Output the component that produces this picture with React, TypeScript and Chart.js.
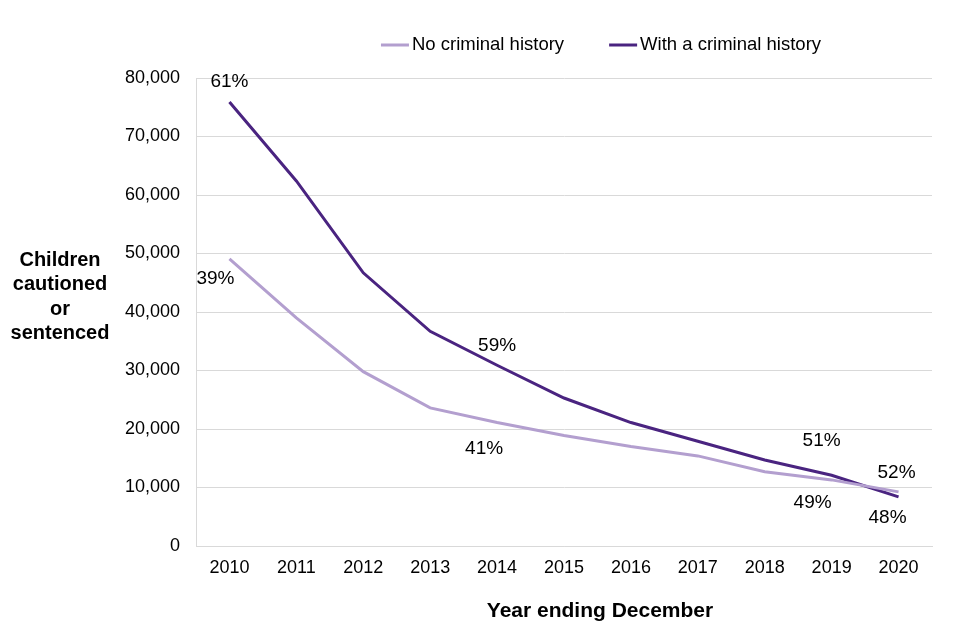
import React, { useEffect, useRef } from "react";
import { Chart, registerables } from "chart.js";

Chart.register(...registerables);

const years = ["2010", "2011", "2012", "2013", "2014", "2015", "2016", "2017", "2018", "2019", "2020"];
const noHistory = [49100, 39000, 29800, 23600, 21100, 18900, 17000, 15400, 12700, 11300, 9250];
const withHistory = [75900, 62400, 46700, 36700, 30900, 25300, 21100, 17900, 14700, 12100, 8400];
const noHistoryPct = ["39%", "", "", "", "41%", "", "", "", "", "49%", "52%"];
const withHistoryPct = ["61%", "", "", "", "59%", "", "", "", "", "51%", "48%"];
const seriesNames = ["No criminal history", "With a criminal history"];
const yTitleLines = ["Children", "cautioned", "or", "sentenced"];
const xTitle = "Year ending December";

const FONT = "'Liberation Sans', Arial, sans-serif";
const LIGHT = "#b39fcf";
const DARK = "#4a2480";

// label offsets (px) relative to the data point, per series, per index
const offsetsNo: Record<number, [number, number]> = { 0: [-14, 20], 4: [-13, 26], 9: [-19, 23], 10: [-2, -19] };
const offsetsWith: Record<number, [number, number]> = { 0: [0, -20], 4: [0, -19], 9: [-10, -34], 10: [-11, 21] };

const overlayPlugin = {
  id: "overlay",
  afterDatasetsDraw(chart: any) {
    const ctx = chart.ctx as CanvasRenderingContext2D;
    ctx.save();
    // point labels
    ctx.font = `19px ${FONT}`;
    ctx.fillStyle = "#000";
    ctx.textAlign = "center";
    ctx.textBaseline = "middle";
    const sets: [number, string[], Record<number, [number, number]>][] = [
      [0, noHistoryPct, offsetsNo],
      [1, withHistoryPct, offsetsWith],
    ];
    for (const [di, labels, offs] of sets) {
      const meta = chart.getDatasetMeta(di);
      labels.forEach((t, i) => {
        if (!t) return;
        const pt = meta.data[i];
        const o = offs[i] || [0, -20];
        ctx.fillText(t, pt.x + o[0], pt.y + o[1]);
      });
    }
    // y title
    ctx.font = `bold 20px ${FONT}`;
    yTitleLines.forEach((l, i) => {
      ctx.fillText(l, 60, 260 + i * 24.5);
    });
    // x title
    ctx.font = `bold 21px ${FONT}`;
    ctx.fillText(xTitle, 600, 611);
    // legend
    ctx.font = `18.5px ${FONT}`;
    const sample = 28;
    const gapText = 3;
    const gapItem = 45;
    const ds = chart.data.datasets;
    const widths = ds.map((d: any) => sample + gapText + ctx.measureText(d.label).width);
    const total = widths.reduce((a: number, b: number) => a + b, 0) + gapItem * (ds.length - 1);
    let x = 601 - total / 2;
    const y = 45;
    ds.forEach((d: any, i: number) => {
      ctx.strokeStyle = d.borderColor;
      ctx.lineWidth = 3;
      ctx.beginPath();
      ctx.moveTo(x, y);
      ctx.lineTo(x + sample, y);
      ctx.stroke();
      ctx.textAlign = "left";
      ctx.fillText(d.label, x + sample + gapText, y);
      x += widths[i] + gapItem;
    });
    ctx.restore();
  },
};

export default function App() {
  const ref = useRef<HTMLCanvasElement>(null);
  useEffect(() => {
    document.body.style.margin = "0";
    const chart = new Chart(ref.current!, {
      type: "line",
      data: {
        labels: years,
        datasets: [
          { label: seriesNames[0], data: noHistory, borderColor: LIGHT, backgroundColor: LIGHT, borderWidth: 3, pointRadius: 0, tension: 0 },
          { label: seriesNames[1], data: withHistory, borderColor: DARK, backgroundColor: DARK, borderWidth: 3, pointRadius: 0, tension: 0 },
        ],
      },
      options: {
        animation: false,
        responsive: false,
        devicePixelRatio: 1,
        layout: { padding: { top: 78, right: 28, left: 0, bottom: 0 } },
        plugins: { legend: { display: false }, tooltip: { enabled: false } },
        scales: {
          x: {
            offset: true,
            grid: { display: false, drawTicks: false },
            border: { display: true, color: "#d9d9d9", width: 1 },
            ticks: { color: "#000", font: { family: FONT, size: 18 }, padding: 11, maxRotation: 0 },
            afterFit: (s: any) => { s.height = 94; },
          },
          y: {
            min: 0,
            max: 80000,
            grid: { color: "#d9d9d9", drawTicks: false },
            border: { display: true, color: "#d9d9d9", width: 1 },
            ticks: {
              stepSize: 10000,
              color: "#000",
              font: { family: FONT, size: 18 },
              padding: 16,
              callback: (v: any) => Number(v).toLocaleString("en-US"),
            },
            afterFit: (s: any) => { s.width = 196; },
          },
        },
      },
      plugins: [overlayPlugin],
    });
    return () => chart.destroy();
  }, []);
  return <canvas ref={ref} width={960} height={640} style={{ display: "block" }} />;
}
